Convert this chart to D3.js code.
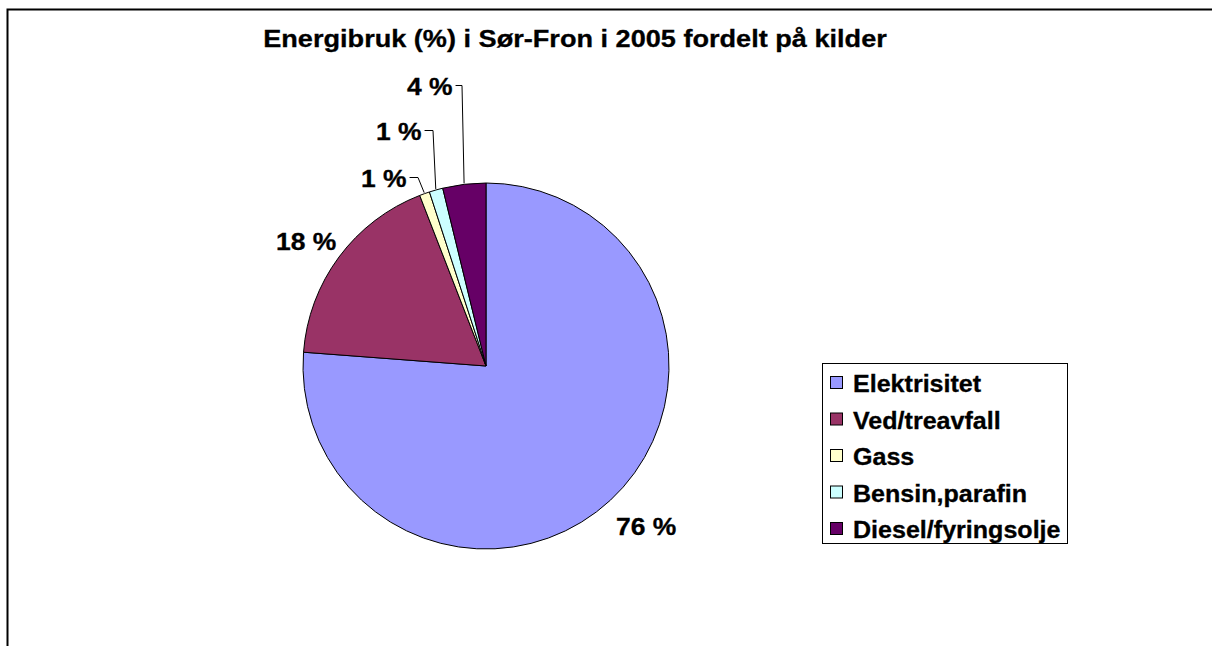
<!DOCTYPE html>
<html>
<head>
<meta charset="utf-8">
<script src="https://cdn.jsdelivr.net/npm/d3@7"></script>
<style>
  body { margin: 0; background: #fff; }
  svg text { font-family: "Liberation Sans", Arial, sans-serif; font-weight: bold; }
</style>
</head>
<body>
<div id="visual"></div>
<script>
const categories = ["Elektrisitet", "Ved/treavfall", "Gass", "Bensin,parafin", "Diesel/fyringsolje"];
const values = [76.2, 17.9, 0.9, 1.2, 3.8];
const labels = ["76 %", "18 %", "1 %", "1 %", "4 %"];
const colors = ["#9999FF", "#993366", "#FFFFCC", "#CCFFFF", "#660066"];

const W = 1212, H = 646;
const cx = 486, cy = 366, r = 183;

const svg = d3.select("#visual")
  .append("svg")
  .attr("width", W)
  .attr("height", H);

// chart frame (runs off right/bottom edge)
svg.append("rect")
  .attr("x", 7.5).attr("y", 9.5)
  .attr("width", 1300).attr("height", 700)
  .attr("fill", "none")
  .attr("stroke", "#000")
  .attr("stroke-width", 2);

// the original font renders wider, so stretch text horizontally
svg.append("text")
  .attr("transform", "translate(575,47) scale(1.13,1)")
  .attr("text-anchor", "middle")
  .attr("font-size", 24)
  .attr("stroke", "#000")
  .attr("stroke-width", 0.3)
  .text("Energibruk (%) i Sør-Fron i 2005 fordelt på kilder");

const pie = d3.pie().sort(null).value(d => d)(values);
const arc = d3.arc().innerRadius(0).outerRadius(r);

const g = svg.append("g").attr("transform", `translate(${cx},${cy})`);

g.selectAll("path")
  .data(pie)
  .join("path")
  .attr("d", arc)
  .attr("fill", (d, i) => colors[i])
  .attr("stroke", "#000")
  .attr("stroke-width", 1);

// label placement, with leader lines for the small slices
const labelPos = [
  { x: 616, y: 535, leader: false },
  { x: 276, y: 250, leader: false },
  { x: 361, y: 187, leader: true, elbow: 418 },
  { x: 376, y: 140, leader: true, elbow: 433 },
  { x: 407, y: 95, leader: true, elbow: 462 }
];
const sx = 1.15;

pie.forEach((d, i) => {
  const p = labelPos[i];
  const t = svg.append("text")
    .attr("transform", `translate(${p.x},${p.y}) scale(${sx},1)`)
    .attr("font-size", 23)
    .attr("stroke", "#000")
    .attr("stroke-width", 0.3)
    .text(labels[i]);
  if (p.leader) {
    const right = p.x + t.node().getComputedTextLength() * sx;
    const mid = (d.startAngle + d.endAngle) / 2;
    const ex = cx + Math.sin(mid) * (r + 1);
    const ey = cy - Math.cos(mid) * (r + 1);
    svg.append("polyline")
      .attr("points", `${right + 3},${p.y - 9.5} ${p.elbow},${p.y - 9.5} ${ex},${ey}`)
      .attr("fill", "none")
      .attr("stroke", "#000")
      .attr("stroke-width", 1);
  }
});

// legend
const legend = svg.append("g").attr("transform", "translate(822,363)");
legend.append("rect")
  .attr("x", 0.5).attr("y", 0.5)
  .attr("width", 245).attr("height", 180)
  .attr("fill", "#fff")
  .attr("stroke", "#000")
  .attr("stroke-width", 1);

const item = legend.selectAll(".item")
  .data(categories)
  .join("g")
  .attr("class", "item")
  .attr("transform", (d, i) => `translate(8,${21 + i * 36.5})`);

item.append("rect")
  .attr("x", 0.5).attr("y", -7.5)
  .attr("width", 12).attr("height", 12)
  .attr("fill", (d, i) => colors[i])
  .attr("stroke", "#000")
  .attr("stroke-width", 1);

item.append("text")
  .attr("transform", "translate(23,8) scale(1.09,1)")
  .attr("font-size", 23)
  .attr("stroke", "#000")
  .attr("stroke-width", 0.3)
  .text(d => d);
</script>
</body>
</html>
